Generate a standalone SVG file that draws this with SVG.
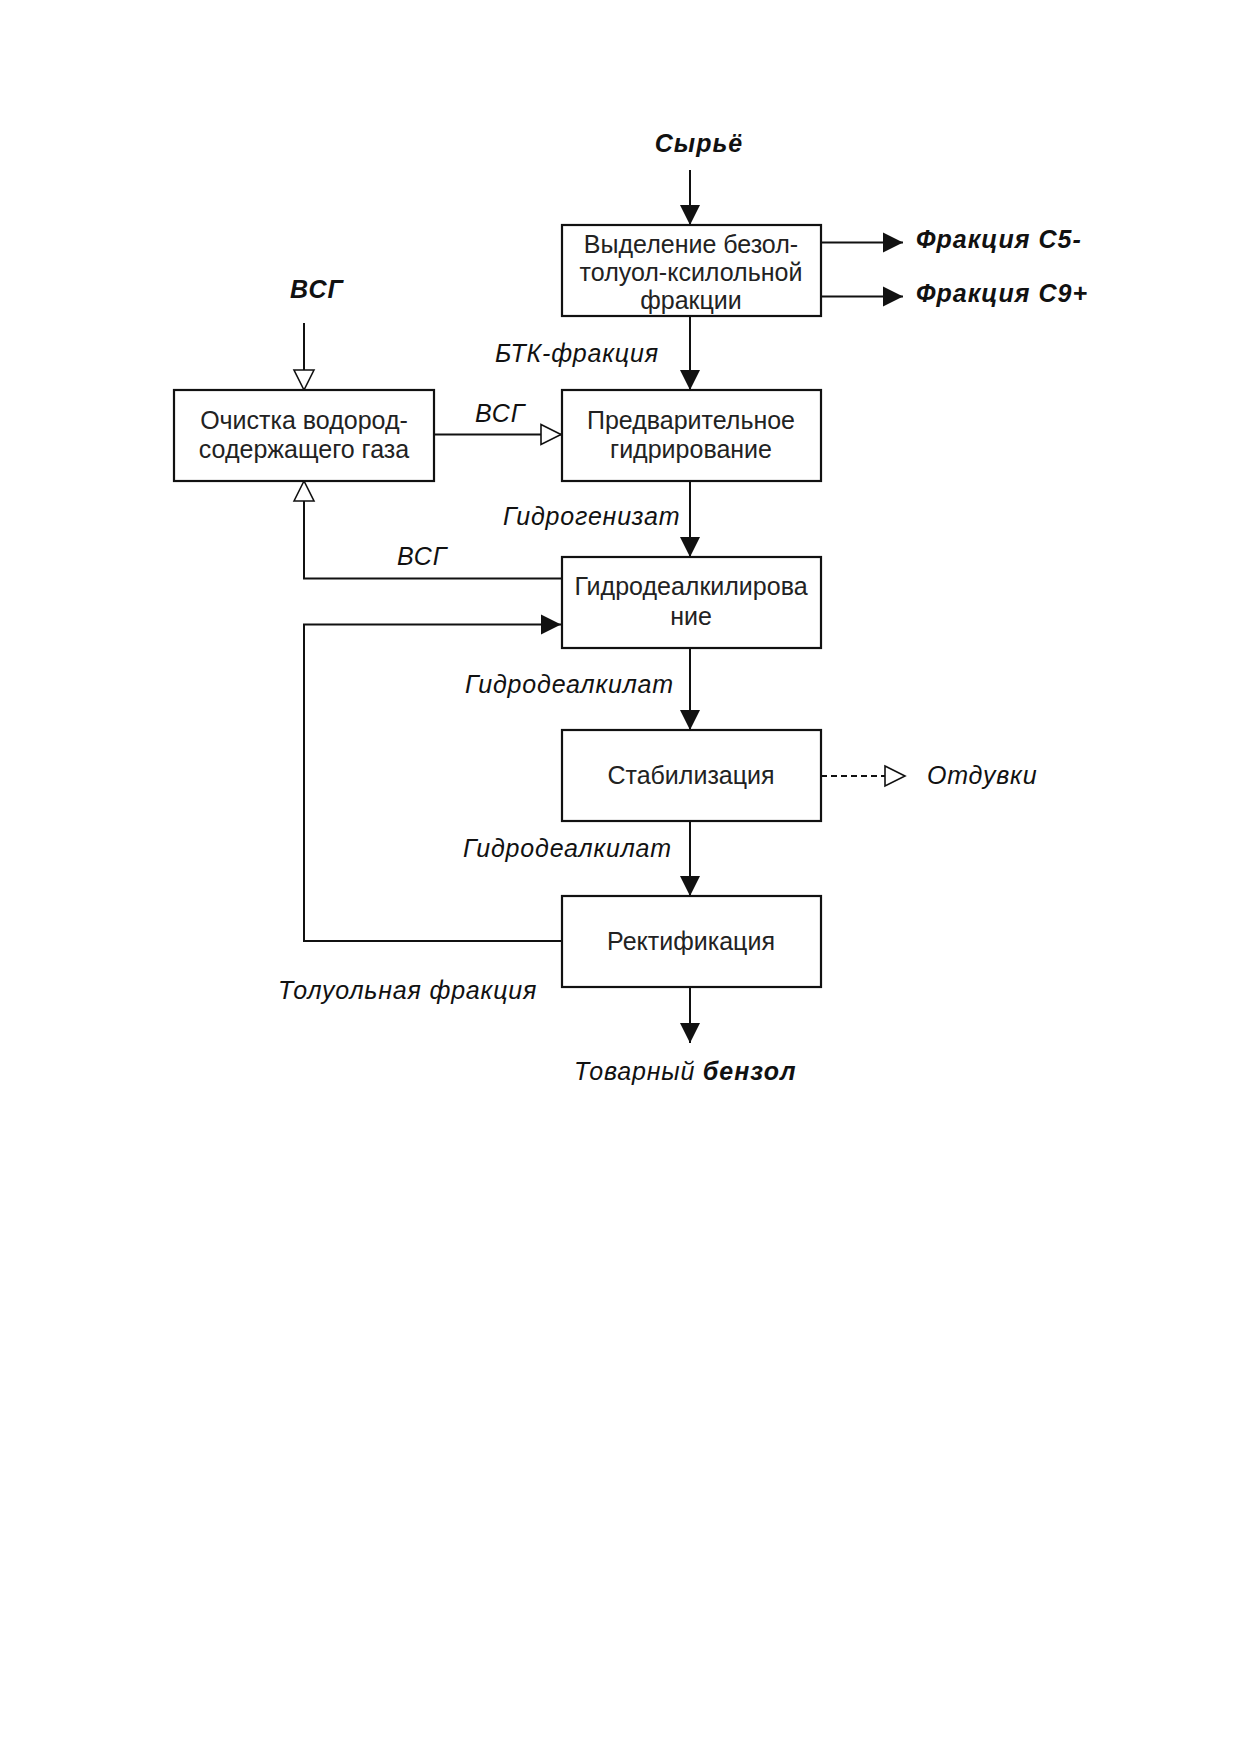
<svg xmlns="http://www.w3.org/2000/svg" width="1241" height="1755" viewBox="0 0 1241 1755">
<style>
.box{fill:#fff;stroke:#111;stroke-width:2.2}
.t{font-family:"Liberation Sans",Arial,sans-serif;font-size:25px;fill:#222;text-anchor:middle}
.lb{font-family:"Liberation Sans",Arial,sans-serif;font-size:25px;fill:#111;font-style:italic;letter-spacing:0.8px}
.bd{font-weight:bold;letter-spacing:1px}
.c{fill:none;stroke:#111;stroke-width:2}
.dash{stroke-dasharray:6,4}
</style>
<defs>
<marker id="af" viewBox="-2 -2 24 24" markerWidth="24" markerHeight="24" refX="20" refY="10" orient="auto" markerUnits="userSpaceOnUse">
<path d="M0,0 L20,10 L0,20 Z" fill="#111"/>
</marker>
<marker id="ao" viewBox="-2 -2 24 24" markerWidth="24" markerHeight="24" refX="20" refY="10" orient="auto" markerUnits="userSpaceOnUse">
<path d="M0,0 L20,10 L0,20 Z" fill="#fff" stroke="#111" stroke-width="1.6"/>
</marker>
</defs>
<rect width="1241" height="1755" fill="#fff"/>
<g id="connectors">
<path class="c" d="M690,170 V225" marker-end="url(#af)"/>
<path class="c" d="M821,242.5 H903" marker-end="url(#af)"/>
<path class="c" d="M821,296.5 H903" marker-end="url(#af)"/>
<path class="c" d="M690,316 V390" marker-end="url(#af)"/>
<path class="c" d="M304,323 V390" marker-end="url(#ao)"/>
<path class="c" d="M434,434.5 H561" marker-end="url(#ao)"/>
<path class="c" d="M690,481 V557" marker-end="url(#af)"/>
<path class="c" d="M561,578.5 H304 V481" marker-end="url(#ao)"/>
<path class="c" d="M561,941 H304 V624.5 H561" marker-end="url(#af)"/>
<path class="c" d="M690,648 V730" marker-end="url(#af)"/>
<path class="c dash" d="M821,776 H905" marker-end="url(#ao)"/>
<path class="c" d="M690,821 V896" marker-end="url(#af)"/>
<path class="c" d="M690,987 V1043" marker-end="url(#af)"/>
</g>
<g id="n-feed"><text class="lb bd" x="699" y="152" text-anchor="middle">Сырьё</text></g>
<g id="n-btx">
<rect class="box" x="562" y="225" width="259" height="91"/>
<text class="t" x="691" y="253">Выделение безол-</text>
<text class="t" x="691" y="281">толуол-ксилольной</text>
<text class="t" x="691" y="309">фракции</text>
</g>
<g id="n-c5"><text class="lb bd" x="916" y="248">Фракция С5-</text></g>
<g id="n-c9"><text class="lb bd" x="916" y="302">Фракция С9+</text></g>
<g id="n-vsg-in"><text class="lb bd" x="317" y="298" text-anchor="middle">ВСГ</text></g>
<g id="n-clean">
<rect class="box" x="174" y="390" width="260" height="91"/>
<text class="t" x="304" y="428.5">Очистка водород-</text>
<text class="t" x="304" y="458">содержащего газа</text>
</g>
<g id="n-prehyd">
<rect class="box" x="562" y="390" width="259" height="91"/>
<text class="t" x="691" y="428.5">Предварительное</text>
<text class="t" x="691" y="458">гидрирование</text>
</g>
<g id="n-hda">
<rect class="box" x="562" y="557" width="259" height="91"/>
<text class="t" x="691" y="595">Гидродеалкилирова</text>
<text class="t" x="691" y="625">ние</text>
</g>
<g id="n-stab">
<rect class="box" x="562" y="730" width="259" height="91"/>
<text class="t" x="691" y="784">Стабилизация</text>
</g>
<g id="n-rect">
<rect class="box" x="562" y="896" width="259" height="91"/>
<text class="t" x="691" y="950">Ректификация</text>
</g>
<g id="labels">
<text class="lb" x="495" y="362">БТК-фракция</text>
<text class="lb" x="500" y="422" text-anchor="middle">ВСГ</text>
<text class="lb" x="503" y="525">Гидрогенизат</text>
<text class="lb" x="422" y="565" text-anchor="middle">ВСГ</text>
<text class="lb" x="465" y="693">Гидродеалкилат</text>
<text class="lb" x="927" y="784">Отдувки</text>
<text class="lb" x="463" y="857">Гидродеалкилат</text>
<text class="lb" x="278" y="999">Толуольная фракция</text>
</g>
<g id="n-benzene"><text class="lb" x="574" y="1080">Товарный <tspan class="bd">бензол</tspan></text></g>
</svg>
